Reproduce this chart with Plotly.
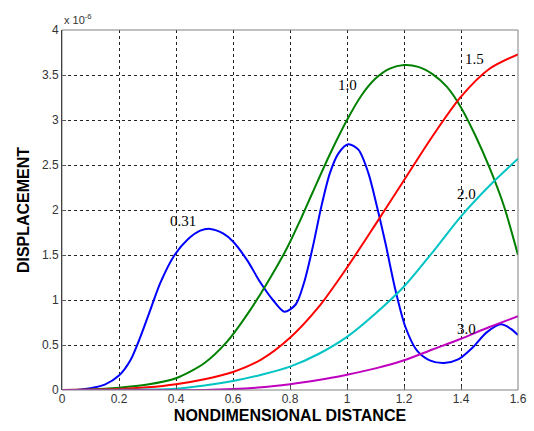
import plotly.graph_objects as go

# ---- data (y in units of 1e-6) ----
x_031 = [0, 0.05, 0.10, 0.15, 0.20, 0.24, 0.275, 0.31, 0.345, 0.395, 0.44, 0.485, 0.52, 0.565, 0.60,
         0.65, 0.695, 0.74, 0.78, 0.82, 0.85, 0.88, 0.91, 0.94, 0.97, 1.005, 1.04, 1.075, 1.105,
         1.135, 1.17, 1.205, 1.245, 1.29, 1.34, 1.39, 1.44, 1.49, 1.54, 1.575, 1.6]
y_031 = [0, 0.0, 0.02, 0.06, 0.16, 0.33, 0.59, 0.89, 1.19, 1.50, 1.67, 1.77, 1.79, 1.74, 1.65,
         1.44, 1.20, 1.00, 0.87, 0.95, 1.20, 1.59, 2.04, 2.41, 2.63, 2.73, 2.67, 2.41, 2.04,
         1.63, 1.11, 0.70, 0.44, 0.33, 0.30, 0.34, 0.47, 0.64, 0.73, 0.68, 0.61]

x_10 = [0, 0.1, 0.2, 0.3, 0.4, 0.5, 0.58, 0.65, 0.72, 0.79, 0.835, 0.88, 0.94, 1.0,
        1.05, 1.1, 1.15, 1.2, 1.25, 1.3, 1.35, 1.4, 1.45, 1.5, 1.55, 1.6]
y_10 = [0, 0.005, 0.025, 0.06, 0.13, 0.30, 0.54, 0.84, 1.19, 1.58, 1.88, 2.20, 2.62, 3.00,
        3.27, 3.46, 3.57, 3.61, 3.59, 3.51, 3.37, 3.14, 2.83, 2.47, 2.05, 1.50]

x_15 = [0, 0.2, 0.3, 0.4, 0.5, 0.6, 0.7, 0.8, 0.9, 1.0, 1.1, 1.2, 1.3, 1.4, 1.5, 1.6]
y_15 = [0, 0.01, 0.03, 0.065, 0.12, 0.20, 0.34, 0.58, 0.92, 1.36, 1.84, 2.33, 2.82, 3.26, 3.57, 3.73]

x_20 = [0, 0.3, 0.4, 0.5, 0.6, 0.7, 0.8, 0.9, 1.0, 1.1, 1.2, 1.3, 1.4, 1.5, 1.6]
y_20 = [0, 0.005, 0.015, 0.05, 0.10, 0.17, 0.26, 0.40, 0.59, 0.85, 1.15, 1.53, 1.93, 2.27, 2.57]

x_30 = [0, 0.5, 0.6, 0.7, 0.8, 0.9, 1.0, 1.1, 1.2, 1.3, 1.4, 1.5, 1.6]
y_30 = [0, 0.0, 0.01, 0.03, 0.065, 0.11, 0.17, 0.24, 0.33, 0.45, 0.57, 0.70, 0.82]

series = [
    ("0.31", x_031, y_031, "#0000FF"),
    ("1.0", x_10, y_10, "#008000"),
    ("1.5", x_15, y_15, "#FF0000"),
    ("2.0", x_20, y_20, "#00C4C4"),
    ("3.0", x_30, y_30, "#BF00BF"),
]

label_text = ["0.31", "1.0", "1.5", "2.0", "3.0"]
label_x = [0.425, 1.003, 1.448, 1.42, 1.42]
label_y = [1.88, 3.39, 3.68, 2.18, 0.68]

x_ticks = [0, 0.2, 0.4, 0.6, 0.8, 1.0, 1.2, 1.4, 1.6]
x_tick_labels = ["0", "0.2", "0.4", "0.6", "0.8", "1", "1.2", "1.4", "1.6"]
y_ticks = [0, 0.5, 1, 1.5, 2, 2.5, 3, 3.5, 4]
y_tick_labels = ["0", "0.5", "1", "1.5", "2", "2.5", "3", "3.5", "4"]

fig = go.Figure()
for name, xs, ys, col in series:
    fig.add_trace(go.Scatter(x=xs, y=ys, mode="lines", name=name,
                             line=dict(color=col, width=2, shape="spline", smoothing=0.8)))

for t, lx, ly in zip(label_text, label_x, label_y):
    fig.add_annotation(x=lx, y=ly, text=t, showarrow=False,
                       font=dict(family="Liberation Serif", size=15, color="black"))

fig.add_annotation(xref="paper", yref="paper", x=0, y=1, xanchor="left", yanchor="bottom",
                   yshift=2, text="x 10<sup>-6</sup>", showarrow=False,
                   font=dict(family="Liberation Sans", size=11, color="#333"))

# gray frame
fig.add_shape(type="rect", xref="paper", yref="paper", x0=0, y0=0, x1=1, y1=1,
              line=dict(color="#808080", width=1), layer="above")

axis_font = dict(family="Liberation Sans", size=12, color="#333")
fig.update_layout(
    width=534, height=431, autosize=False,
    margin=dict(l=62, r=16, t=30, b=41, pad=0),
    paper_bgcolor="white", plot_bgcolor="white",
    showlegend=False,
    xaxis=dict(range=[0, 1.6], tickvals=x_ticks, ticktext=x_tick_labels, automargin=False,
               showgrid=True, gridcolor="#222", gridwidth=1, griddash="3px,3px",
               zeroline=False, showline=False, ticks="inside", ticklen=4, tickcolor="#555",
               tickfont=axis_font,
               title=dict(text="<b>NONDIMENSIONAL DISTANCE</b>", standoff=4,
                          font=dict(family="Liberation Sans", size=16, color="black"))),
    yaxis=dict(range=[0, 4], tickvals=y_ticks, ticktext=y_tick_labels, automargin=False,
               showgrid=True, gridcolor="#222", gridwidth=1, griddash="3px,3px",
               zeroline=False, showline=True, linecolor="black", linewidth=1,
               ticks="inside", ticklen=4, tickcolor="#555",
               tickfont=axis_font,
               title=dict(text="<b>DISPLACEMENT</b>", standoff=8,
                          font=dict(family="Liberation Sans", size=16, color="black"))),
)

fig.write_html("out.html")
